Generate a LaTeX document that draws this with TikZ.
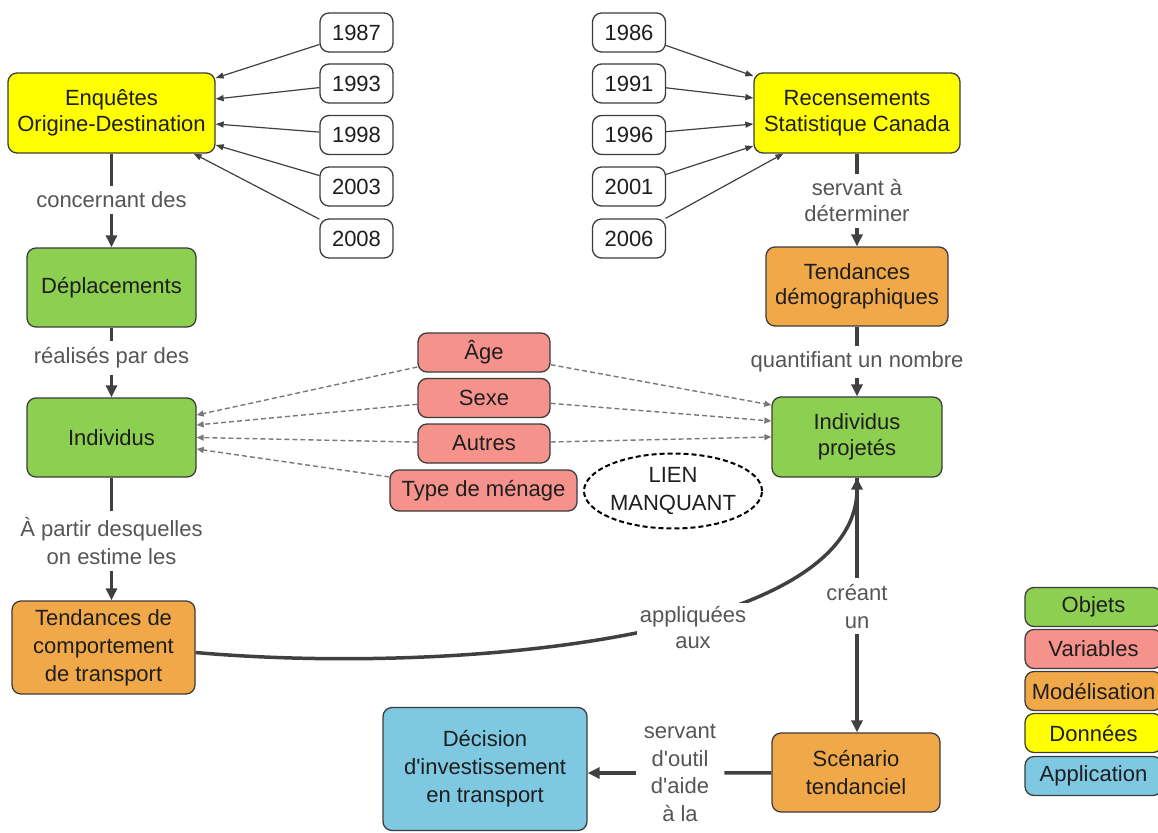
\documentclass[tikz,border=0pt]{standalone}
\usepackage{fontspec}
\setmainfont{Liberation Sans}[Ligatures=TeXOff]
\usetikzlibrary{arrows.meta,shapes.geometric,calc}
\definecolor{cyel}{RGB}{255,255,0}
\definecolor{cgrn}{RGB}{141,207,80}
\definecolor{cora}{RGB}{241,168,72}
\definecolor{cpnk}{RGB}{245,146,140}
\definecolor{cblu}{RGB}{126,200,226}
\definecolor{cbord}{RGB}{60,60,60}
\definecolor{ctxt}{RGB}{30,30,30}
\definecolor{clbl}{RGB}{85,85,85}
\definecolor{cline}{RGB}{64,64,64}
\definecolor{cdash}{RGB}{120,120,120}
\newcommand\nfont{\fontsize{22}{25.5}\selectfont}
\newcommand\lfont{\fontsize{22}{27}\selectfont}
\begin{document}
\begin{tikzpicture}[x=1pt,y=-1pt,
  base/.style={rounded corners=9pt, draw=cbord, line width=1.3pt, align=center, text=ctxt, font=\nfont, inner sep=2pt},
  yearbox/.style={base, fill=white, minimum width=73pt, minimum height=39pt},
  varbox/.style={base, fill=cpnk, minimum height=39pt},
  legbox/.style={base, minimum width=137pt, minimum height=39pt},
  lbl/.style={align=center, text=clbl, font=\lfont, inner sep=6pt},
  heavy/.style={line width=3.5pt, draw=cline},
  heavyarr/.style={heavy, -{Triangle[length=12pt,width=11pt]}},
  thinarr/.style={line width=1.2pt, draw=cline, -{Triangle[length=8pt,width=6pt]}},
  dasharr/.style={line width=1.4pt, draw=cdash, dash pattern=on 5pt off 3pt, -{Triangle[length=7pt,width=6pt]}}
]
\useasboundingbox (0,0) rectangle (1158,832);
\clip (0,0) rectangle (1158,832);

% main nodes
\node[base, fill=cyel, minimum width=207pt, minimum height=80pt] (enq) at (111.5,113) {Enquêtes\\Origine-Destination};
\node[base, fill=cyel, minimum width=206pt, minimum height=80pt] (rec) at (857,113) {Recensements\\Statistique Canada};
\node[base, fill=cgrn, minimum width=169pt, minimum height=79pt] (dep) at (111.5,287.5) {Déplacements};
\node[base, fill=cgrn, minimum width=169pt, minimum height=79pt] (ind) at (111.5,437.5) {Individus};
\node[base, fill=cora, minimum width=183pt, minimum height=93pt, font=\fontsize{22}{28}\selectfont] (tdc) at (103.5,647.5) {Tendances de\\comportement\\de transport};
\node[base, fill=cora, minimum width=182pt, minimum height=79pt] (tdem) at (857,286.5) {Tendances\\démographiques};
\node[base, fill=cgrn, minimum width=170pt, minimum height=80pt] (indp) at (857,437) {Individus\\projetés};
\node[base, fill=cora, minimum width=168pt, minimum height=79pt, font=\fontsize{22}{28}\selectfont] (scen) at (856,772.5) {Scénario\\tendanciel};
\node[base, fill=cblu, minimum width=204pt, minimum height=123pt, font=\fontsize{22}{28}\selectfont] (dec) at (485,769) {Décision\\d'investissement\\en transport};

% years
\node[yearbox] (y87) at (356.5,32.5) {1987};
\node[yearbox] (y93) at (356.5,83.5) {1993};
\node[yearbox] (y98) at (356.5,135) {1998};
\node[yearbox] (y03) at (356.5,186.5) {2003};
\node[yearbox] (y08) at (356.5,238.5) {2008};
\node[yearbox] (y86) at (629,32.5) {1986};
\node[yearbox] (y91) at (629,83.5) {1991};
\node[yearbox] (y96) at (629,135) {1996};
\node[yearbox] (y01) at (629,186.5) {2001};
\node[yearbox] (y06) at (629,238.5) {2006};

% variables
\node[varbox, minimum width=132pt] (age) at (484,352.5) {Âge};
\node[varbox, minimum width=132pt] (sexe) at (484,398) {Sexe};
\node[varbox, minimum width=132pt] (autres) at (484,443.5) {Autres};
\node[varbox, minimum width=187pt, minimum height=41pt] (type) at (483.5,490.5) {Type de ménage};
\node[ellipse, draw=black, line width=2pt, dash pattern=on 5pt off 3pt, minimum width=178pt, minimum height=75pt, inner sep=0pt, align=center, font=\fontsize{22}{28}\selectfont, text=ctxt] (lien) at (673,491) {LIEN\\MANQUANT};

% year arrows
\draw[thinarr] (y87) -- ([yshift=35pt]enq.east);
\draw[thinarr] (y93) -- ([yshift=14pt]enq.east);
\draw[thinarr] (y98) -- ([yshift=-11pt]enq.east);
\draw[thinarr] (y03) -- ([yshift=-32pt]enq.east);
\draw[thinarr] (y08) -- ([xshift=-22pt]enq.south east);
\draw[thinarr] (y86) -- ([yshift=37pt]rec.west);
\draw[thinarr] (y91) -- ([yshift=15pt]rec.west);
\draw[thinarr] (y96) -- ([yshift=-11pt]rec.west);
\draw[thinarr] (y01) -- ([yshift=-33pt]rec.west);
\draw[thinarr] (y06) -- ([xshift=30pt]rec.south west);

% dashed variable arrows
\draw[dasharr] (age) -- ([yshift=22.5pt]ind.east);
\draw[dasharr] (sexe) -- ([yshift=12.5pt]ind.east);
\draw[dasharr] (autres) -- (ind.east);
\draw[dasharr] (type) -- ([yshift=-11.5pt]ind.east);
\draw[dasharr] (age) -- ([yshift=32pt]indp.west);
\draw[dasharr] (sexe) -- ([yshift=16pt]indp.west);
\draw[dasharr] (autres) -- (indp.west);

% labelled heavy connectors
\node[lbl] (l1) at (111.5,200) {concernant des};
\draw[heavy] (enq) -- (l1);
\draw[heavyarr] (l1) -- (dep);

\node[lbl] (l2) at (111.5,358) {réalisés par des};
\draw[heavy] (dep) -- (l2);
\draw[heavyarr] (l2) -- (ind);

\node[lbl, font=\fontsize{22}{28}\selectfont] (l3) at (111.5,541) {À partir desquelles\\on estime les};
\draw[heavy] (ind) -- (l3);
\draw[heavyarr] (l3) -- (l3 |- tdc.north);

\node[lbl, font=\fontsize{22}{26}\selectfont] (l4) at (857,201) {servant à\\déterminer};
\draw[heavy] (rec) -- (l4);
\draw[heavyarr] (l4) -- (tdem);

\node[lbl] (l5) at (857,362) {quantifiant un nombre};
\draw[heavy] (tdem) -- (l5);
\draw[heavyarr] (l5) -- (indp);

\node[lbl, font=\fontsize{22}{28}\selectfont] (l6) at (857,606) {créant\\un};
\draw[heavy] (indp) -- (l6);
\draw[heavyarr] (l6) -- (l6 |- scen.north);

\node[lbl, font=\fontsize{22}{27.6}\selectfont, inner sep=8pt] (l7) at (680,773) {servant\\d'outil\\d'aide\\à la};
\draw[heavy] (scen) -- (l7);
\draw[heavyarr] (l7) -- (dec.east |- l7);

% curve
\draw[heavyarr] ([yshift=-5pt]tdc.east) .. controls (450,675) and (857,640) .. (indp.south);
\node[lbl, fill=white, font=\fontsize{22}{26}\selectfont, inner sep=3pt] (l8) at (693,627) {appliquées\\aux};

% legend
\node[legbox, fill=cgrn] (lg1) at (1093.5,607) {Objets};
\node[legbox, fill=cpnk] (lg2) at (1093.5,649) {Variables};
\node[legbox, fill=cora] (lg3) at (1093.5,691) {Modélisation};
\node[legbox, fill=cyel] (lg4) at (1093.5,733) {Données};
\node[legbox, fill=cblu] (lg5) at (1093.5,776) {Application};
\end{tikzpicture}
\end{document}
